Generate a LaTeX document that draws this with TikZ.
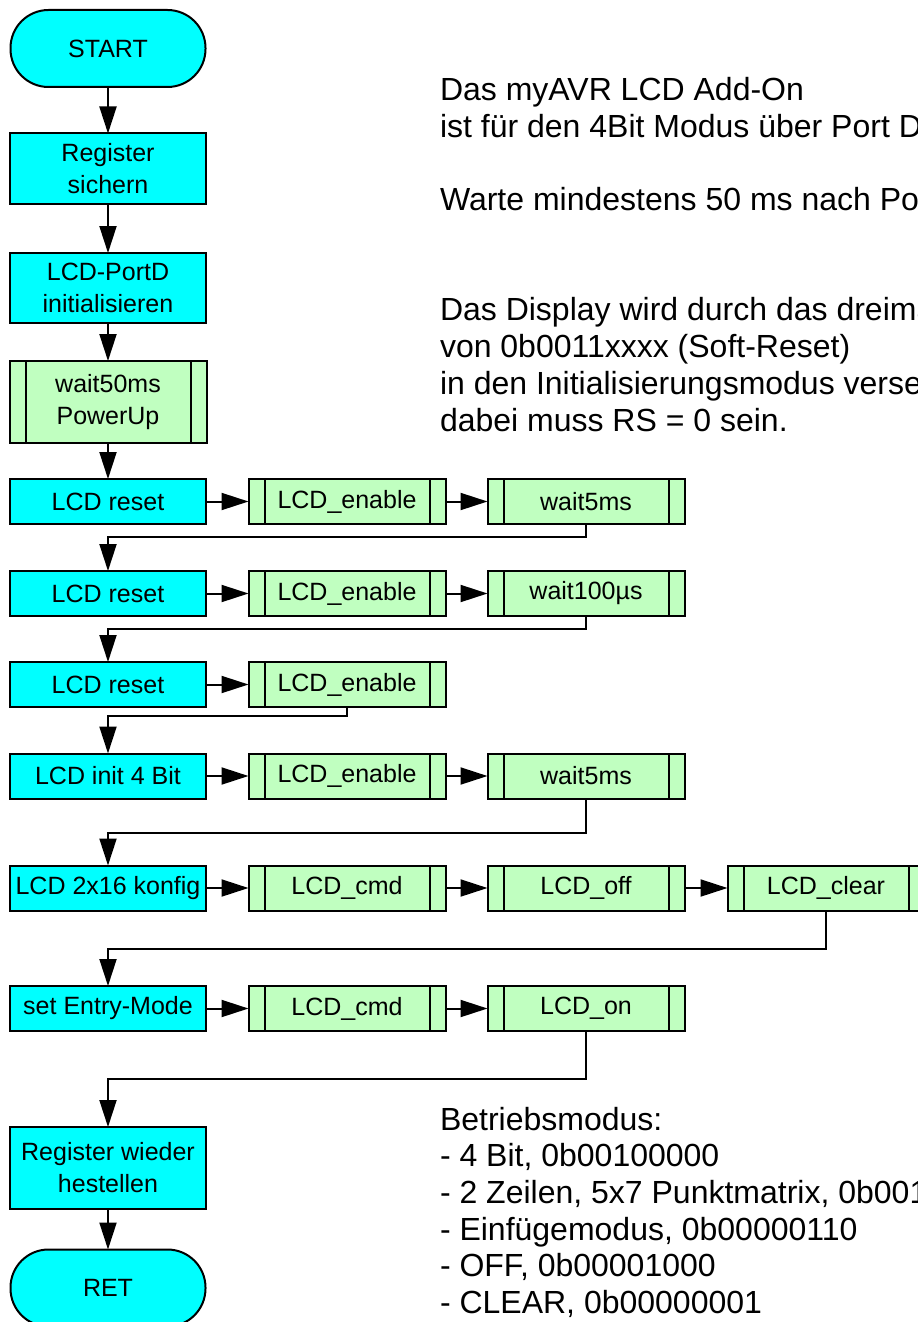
\documentclass[tikz,border=0pt]{standalone}
\usepackage{fontspec}
\setmainfont{Liberation Sans}
\usetikzlibrary{positioning,arrows.meta}
\definecolor{boxcyan}{RGB}{0,255,255}
\definecolor{subgreen}{RGB}{192,255,192}

\begin{document}
\begin{tikzpicture}
[every node/.style={font=\fontsize{12.5}{16}\selectfont,inner sep=0pt,outer sep=0pt},
 box/.style={rectangle,draw=black,line width=1pt,fill=boxcyan,minimum width=98pt,minimum height=22.5pt,align=center},
 term/.style={box,rounded corners=19pt,minimum width=97.5pt,minimum height=38.5pt},
 sub/.style={box,fill=subgreen,minimum width=98.5pt,
   path picture={\draw[line width=1pt]
     ([xshift=8pt]path picture bounding box.north west) -- ([xshift=8pt]path picture bounding box.south west)
     ([xshift=-8pt]path picture bounding box.north east) -- ([xshift=-8pt]path picture bounding box.south east);}},
 note/.style={align=left,anchor=base west,font=\fontsize{16}{18.35}\selectfont},
 arr/.style={-{Triangle[length=13.5pt,width=8.5pt]},line width=1pt}]
\useasboundingbox (0,0) rectangle (458.5pt,-661pt);

\node[term] (start) at (54pt,-24.25pt)                     {START};
\node[box,minimum height=35pt] (save) [on grid,below=60pt of start] {Register\\sichern};
\node[box,minimum height=35pt] (port) [on grid,below=59.75pt of save] {LCD-PortD\\initialisieren};
\node[sub,minimum height=41pt] (pwr)  [on grid,below=57pt of port]  {wait50ms\\PowerUp};
\node[box] (rstA)   [on grid,below=49.75pt of pwr]   {LCD reset};
\node[sub] (enA)    [on grid,right=119.5pt of rstA]  {LCD\_enable};
\node[sub] (wA)     [on grid,right=119.5pt of enA]   {wait5ms};
\node[box] (rstB)   [on grid,below=46pt of rstA]     {LCD reset};
\node[sub] (enB)    [on grid,right=119.5pt of rstB]  {LCD\_enable};
\node[sub] (wB)     [on grid,right=119.5pt of enB]   {wait100µs};
\node[box] (rstC)   [on grid,below=45.5pt of rstB]   {LCD reset};
\node[sub] (enC)    [on grid,right=119.5pt of rstC]  {LCD\_enable};
\node[box] (init)   [on grid,below=45.75pt of rstC]  {LCD init 4 Bit};
\node[sub] (enD)    [on grid,right=119.5pt of init]  {LCD\_enable};
\node[sub] (wD)     [on grid,right=119.5pt of enD]   {wait5ms};
\node[box] (konf)   [on grid,below=56pt of init]     {LCD 2x16 konfig};
\node[sub] (cmdE)   [on grid,right=119.5pt of konf]  {LCD\_cmd};
\node[sub] (offE)   [on grid,right=119.5pt of cmdE]  {LCD\_off};
\node[sub] (clrE)   [on grid,right=120pt of offE]    {LCD\_clear};
\node[box] (entry)  [on grid,below=60.25pt of konf]  {set Entry-Mode};
\node[sub] (cmdF)   [on grid,right=119.5pt of entry] {LCD\_cmd};
\node[sub] (onF)    [on grid,right=119.5pt of cmdF]  {LCD\_on};
\node[box,minimum height=41pt] (rest) [on grid,below=79.75pt of entry] {Register wieder\\hestellen};
\node[term] (ret)   [on grid,below=60pt of rest]     {RET};

% notes: base anchor sits on the last line
\node[note] (intro) at (220pt,-215.5pt) {Das myAVR LCD Add-On\\ist für den 4Bit Modus über Port D\\[18.35pt]Warte mindestens 50 ms nach PowerUp\\[36.7pt]Das Display wird durch das dreimalige Senden\\von 0b0011xxxx (Soft-Reset)\\in den Initialisierungsmodus versetzt,\\dabei muss RS = 0 sein.};
\node[note] (modes) at (220pt,-656.75pt) {Betriebsmodus:\\- 4 Bit, 0b00100000\\- 2 Zeilen, 5x7 Punktmatrix, 0b00101000\\- Einfügemodus, 0b00000110\\- OFF, 0b00001000\\- CLEAR, 0b00000001};

\draw[arr] (start) -- (save);
\draw[arr] (save)  -- (port);
\draw[arr] (port)  -- (pwr);
\draw[arr] (pwr)   -- (rstA);
\draw[arr] (rstA)  -- (enA);
\draw[arr] (enA)   -- (wA);
\draw[arr] (wA.south) -- ++(0,-6.5pt) -| (rstB.north);
\draw[arr] (rstB)  -- (enB);
\draw[arr] (enB)   -- (wB);
\draw[arr] (wB.south) -- ++(0,-6.5pt) -| (rstC.north);
\draw[arr] (rstC)  -- (enC);
\draw[arr] (enC.south) -- ++(0,-4.5pt) -| (init.north);
\draw[arr] (init)  -- (enD);
\draw[arr] (enD)   -- (wD);
\draw[arr] (wD.south) -- ++(0,-17pt) -| (konf.north);
\draw[arr] (konf)  -- (cmdE);
\draw[arr] (cmdE)  -- (offE);
\draw[arr] (offE)  -- (clrE);
\draw[arr] (clrE.south) -- ++(0,-19pt) -| (entry.north);
\draw[arr] (entry) -- (cmdF);
\draw[arr] (cmdF)  -- (onF);
\draw[arr] (onF.south) -- ++(0,-24pt) -| (rest.north);
\draw[arr] (rest)  -- (ret);
\end{tikzpicture}
\end{document}
